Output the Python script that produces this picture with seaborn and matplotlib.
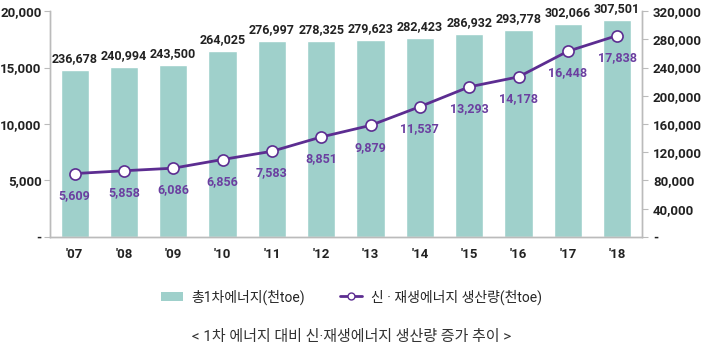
import numpy as np
import pandas as pd
import seaborn as sns
from matplotlib import pyplot as plt
from matplotlib.patches import Patch
from matplotlib.lines import Line2D
from matplotlib.ticker import FuncFormatter

# data
years = ["'07", "'08", "'09", "'10", "'11", "'12", "'13", "'14", "'15", "'16", "'17", "'18"]
primary = [236678, 240994, 243500, 264025, 276997, 278325, 279623, 282423, 286932, 293778, 302066, 307501]
renewable = [5609, 5858, 6086, 6856, 7583, 8851, 9879, 11537, 13293, 14178, 16448, 17838]

bar_col = "#9fd0cb"
line_col = "#5c2d91"
lab_col = "#6b3fa0"

sns.set_style("white")
plt.rcParams['font.family'] = ['Roboto', 'Noto Sans CJK KR']

df = pd.DataFrame({"year": years, "primary": primary, "renewable": renewable})

fig = plt.figure(figsize=(7.03, 3.60), dpi=100)
ax = fig.add_axes([0.071, 0.342, 0.842, 0.627])

# bars on the right-hand scale
sns.barplot(data=df, x="year", y="primary", color=bar_col, width=0.57,
            saturation=1, ax=ax)
ax.set_ylim(0, 320000)
ax.set_yticks(np.arange(0, 320001, 40000))
for i, v in enumerate(primary):
    ax.text(i, v + 7000, f"{v:,}", ha="center", va="bottom", fontsize=9,
            fontweight="bold", color="#222222")

# line on the left-hand scale
ax2 = ax.twinx()
sns.lineplot(x=years, y=renewable, color=line_col, lw=2, marker="o",
             markersize=8, markerfacecolor="white", markeredgecolor=line_col,
             markeredgewidth=1.2, ax=ax2, sort=False)
ax2.set_ylim(0, 20000)
ax2.set_yticks(np.arange(0, 20001, 5000))
for i, v in enumerate(renewable):
    ax2.annotate(f"{v:,}", (i, v), xytext=(0, -11), textcoords="offset points",
                 ha="center", va="top", fontsize=9, fontweight="bold", color=lab_col)

# swap sides: bars scale on right, line scale on left
ax.yaxis.tick_right()
ax.yaxis.set_label_position("right")
ax2.yaxis.tick_left()
ax2.yaxis.set_label_position("left")
fmt = FuncFormatter(lambda v, p: "-" if v == 0 else f"{int(v):,}")
ax.yaxis.set_major_formatter(fmt)
ax2.yaxis.set_major_formatter(fmt)

ax.set_xlim(-0.5, 11.5)
ax.set_xlabel("")
ax.set_ylabel("")
ax2.set_ylabel("")

# x ticks: labels at centres, tick marks at category boundaries
ax.set_xticks(np.arange(12))
ax.set_xticklabels(years)
ax.set_xticks(np.arange(-0.5, 12, 1), minor=True)
ax.tick_params(axis="x", which="major", length=0, pad=8, labelsize=9.5)
ax.tick_params(axis="x", which="minor", length=5, color="#bbbbbb", direction="out")
ax.tick_params(axis="y", length=4, color="#bbbbbb", direction="out", labelsize=9.5, pad=4)
ax2.tick_params(axis="y", length=4, color="#bbbbbb", direction="out", labelsize=9.5, pad=2)
for lab in ax.get_xticklabels() + ax.get_yticklabels() + ax2.get_yticklabels():
    lab.set_fontweight("bold")
    lab.set_color("#222222")

for a in (ax, ax2):
    a.spines["top"].set_visible(False)
    for s in ("left", "right", "bottom"):
        a.spines[s].set_color("#bbbbbb")
        a.spines[s].set_linewidth(1)

handles = [Patch(facecolor=bar_col, edgecolor="none"),
           Line2D([], [], color=line_col, lw=2, marker="o", markersize=5,
                  markerfacecolor="white", markeredgecolor=line_col)]
fig.legend(handles, ["총1차에너지(천toe)", "신 · 재생에너지 생산량(천toe)"],
           loc="center", bbox_to_anchor=(0.5, 0.175), ncol=2, frameon=False,
           fontsize=10, handlelength=1.6, columnspacing=2.5, handletextpad=0.6)

fig.text(0.5, 0.065, "< 1차 에너지 대비 신·재생에너지 생산량 증가 추이 >",
         ha="center", va="center", fontsize=10.8, color="#333333")

fig.savefig("out.png", dpi=100)
